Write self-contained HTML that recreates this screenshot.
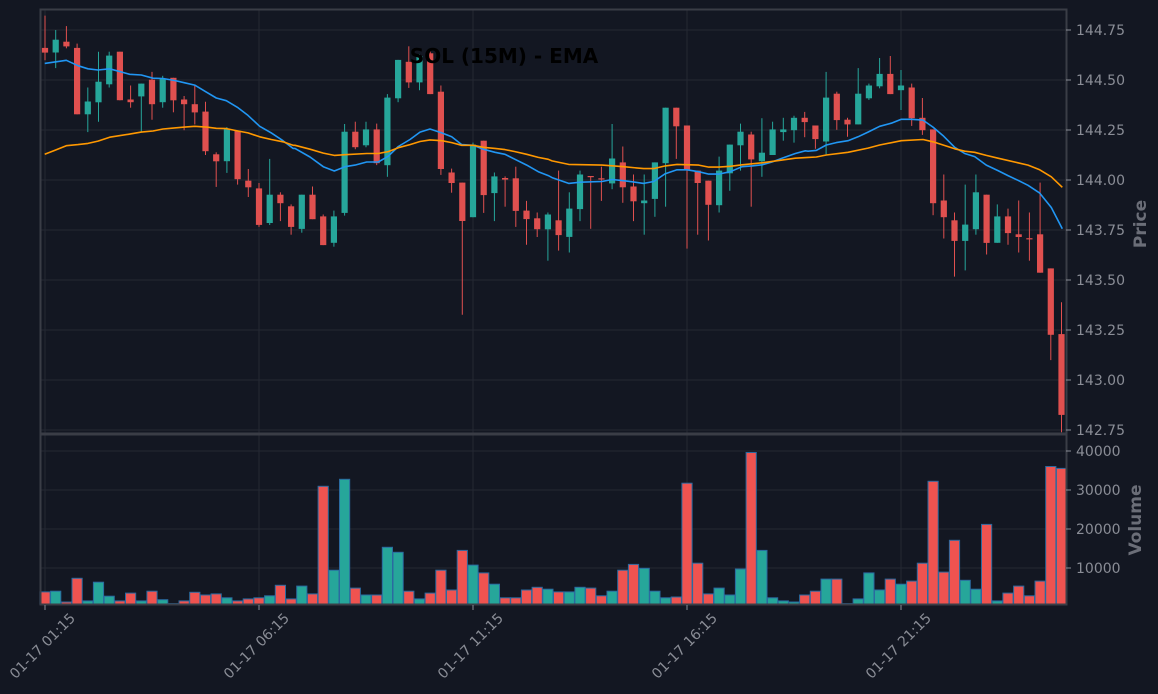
<!DOCTYPE html>
<html><head><meta charset="utf-8"><style>
html,body{margin:0;padding:0;background:#131722;}
svg{display:block;font-family:"DejaVu Sans","Liberation Sans",sans-serif;}
</style></head><body>
<svg id="s" width="1158" height="694" xmlns="http://www.w3.org/2000/svg"></svg>
<script>
const S=document.getElementById('s');let h='';
const Y=z=>30+(z-70)/2.575;
const X=i=>45+i*10.7;
h+='<rect width="1158" height="694" fill="#131722"/>';
[30,80,130,180,230,280,330,380,430].forEach(y=>h+=`<line x1="40" x2="1066" y1="${y}" y2="${y}" stroke="#242833" stroke-width="1"/>`);
[451,490,529,568].forEach(y=>h+=`<line x1="40" x2="1066" y1="${y}" y2="${y}" stroke="#242833" stroke-width="1"/>`);
[45,259,473,687,901].forEach(x=>h+=`<line x1="${x}" x2="${x}" y1="9" y2="604" stroke="#242833" stroke-width="1"/>`);
const C=[
['r',116,128,33,148],['g',95,128,70,168],['r',100,112,60,117],['r',116,287,105,287],['g',254,287,218,333],
['g',203,256,126,306],['g',136,210,126,218],['r',126,251,126,251],['r',249,256,213,270],['g',208,241,208,333],
['r',198,261,178,301],['g',195,256,188,270],['r',193,251,193,282],['r',249,261,240,328],['r',261,282,213,313],
['r',280,382,255,392],['r',390,408,385,474],['g',325,408,320,438],['r',330,454,330,468],['r',458,475,428,500],
['r',478,572,464,577],['g',494,567,402,572],['r',494,516,488,562],['r',524,577,519,597],['g',494,582,494,592],
['r',494,557,473,557],['r',550,624,545,624],['g',550,618,535,628],['g',332,541,312,548],['r',332,372,306,377],
['g',326,367,306,372],['r',326,413,311,418],['g',244,418,235,448],['g',147,246,147,256],['r',152,205,112,219],
['g',137,205,132,225],['r',130,235,122,235],['r',229,428,213,443],['r',437,464,427,489],['r',463,562,463,803],
['g',365,552,360,552],['r',355,495,355,541],['g',447,490,437,562],['r',451,455,447,525],['r',452,536,422,577],
['r',535,557,510,623],['r',555,583,540,603],['g',545,583,540,664],['r',560,598,432,638],['g',530,603,488,643],
['g',442,531,432,562],['r',446,449,447,582],['r',452,455,422,510],['g',401,465,312,480],['r',411,475,370,515],
['r',473,511,442,562],['g',509,516,442,597],['g',411,505,411,551],['g',270,413,270,525],['r',270,318,270,402],
['r',316,432,316,633],['r',432,464,432,597],['r',458,520,458,612],['g',432,521,396,540],['g',365,439,365,484],
['g',332,367,311,432],['r',339,403,332,525],['g',386,408,297,448],['g',326,392,306,392],['g',326,333,296,355],
['g',296,328,291,360],['r',296,307,281,346],['r',316,351,316,376],['g',244,357,178,390],['r',234,302,229,327],
['r',301,313,296,345],['g',234,313,168,313],['g',213,246,208,250],['g',183,215,142,220],['r',183,235,137,235],
['g',213,225,173,276],['r',218,297,208,317],['r',296,328,245,340],['r',326,516,326,547],['r',509,552,442,607],
['r',560,613,540,705],['g',571,613,468,689],['g',488,583,442,597],['r',494,618,494,648],['g',550,618,519,618],
['r',550,593,530,623],['r',596,603,509,643],['r',606,608,540,664],['r',596,695,463,695],['r',684,855,684,920],
['r',853,1061,771,1106]];
const V=[['r',1517],['g',1515],['r',1543],['r',1482],['g',1540],['g',1492],['g',1528],['r',1540],['r',1520],['g',1540],
['r',1515],['g',1537],['r',1547],['r',1540],['r',1518],['r',1525],['r',1522],['g',1532],['r',1540],['r',1535],
['r',1532],['g',1527],['r',1500],['r',1535],['g',1502],['r',1522],['r',1245],['g',1461],['g',1227],['r',1507],
['g',1525],['r',1525],['g',1402],['g',1415],['r',1515],['g',1535],['r',1520],['r',1461],['r',1512],['r',1410],
['g',1448],['r',1468],['g',1497],['r',1532],['r',1532],['r',1512],['r',1505],['g',1510],['r',1517],['g',1517],
['g',1505],['r',1507],['r',1527],['g',1515],['r',1461],['r',1446],['g',1456],['g',1515],['g',1532],['r',1530],
['r',1237],['r',1443],['r',1522],['g',1507],['g',1525],['g',1458],['r',1158],['g',1410],['g',1532],['g',1540],
['g',1543],['r',1525],['r',1515],['g',1484],['r',1484],['r',1547],['g',1535],['g',1468],['g',1512],['r',1484],
['g',1497],['r',1489],['r',1443],['r',1232],['r',1466],['r',1384],['g',1487],['g',1510],['r',1343],['g',1540],
['r',1520],['r',1502],['r',1527],['r',1489],['r',1194],['r',1199]];
const col={r:'#e0504f',g:'#26a69a'}, vcol={r:'#ef5350',g:'#26a69a'};
V.forEach((v,i)=>{const x=X(i);const t=Y(v[1]);h+=`<rect x="${(x-5.1).toFixed(1)}" y="${t.toFixed(1)}" width="10.2" height="${(604-t).toFixed(1)}" fill="${vcol[v[0]]}" stroke="#2a6aa0" stroke-width="1"/>`;});
C.forEach((c,i)=>{const x=X(i);const wt=Y(c[3]),wb=Y(c[4]);let bt=Y(c[1]),bb=Y(c[2]);if(bb-bt<1.2)bb=bt+1.2;
h+=`<line x1="${x.toFixed(1)}" x2="${x.toFixed(1)}" y1="${wt.toFixed(1)}" y2="${wb.toFixed(1)}" stroke="${col[c[0]]}" stroke-width="1"/>`;
h+=`<rect x="${(x-3.1).toFixed(1)}" y="${bt.toFixed(1)}" width="6.2" height="${(bb-bt).toFixed(1)}" fill="${col[c[0]]}"/>`;});
function L(segs,color){let p=[];segs.forEach(([off,pts])=>pts.forEach(([zx,zy])=>p.push([off+zx/3,Y(zy)])));
p.sort((a,b)=>a[0]-b[0]);h+=`<polyline fill="none" stroke="${color}" stroke-width="1.6" stroke-linejoin="round" points="${p.map(q=>q[0].toFixed(1)+','+q[1].toFixed(1)).join(' ')}"/>`;}
L([[38,[[20,156],[85,148],[120,162],[150,170],[180,173],[215,170],[275,184],[310,186],[345,194],[375,195],[410,200],[440,206],[470,212],[505,230],[535,245],[565,252],[600,270],[630,290],[665,318],[700,335],[735,355],[765,375]]],
[295,[[0,375],[45,397],[85,422],[118,433],[150,422],[180,418],[215,410],[250,410],[280,395],[310,370],[345,352],[375,333],[405,325],[440,335],[470,345],[500,365],[535,367],[565,377],[600,385],[630,390],[660,403],[695,418],[730,435],[760,445]]],
[552,[[0,450],[50,465],[85,462],[150,460],[180,455],[215,458],[275,465],[305,460],[340,440],[375,430],[405,430],[440,435],[470,441],[500,441],[535,435],[570,422],[600,420],[630,417],[660,410],[690,400],[730,388],[760,381]]],
[808,[[0,382],[25,380],[55,366],[85,360],[120,355],[150,345],[180,333],[215,318],[250,310],[280,300],[310,300],[345,302],[375,320],[405,342],[440,372],[470,388],[500,396],[535,418],[570,432],[600,445],[630,457],[660,470],[695,490],[730,527],[763,582]]]],'#2196f3');
L([[38,[[20,390],[50,380],[85,368],[120,365],[150,362],[180,356],[215,346],[275,338],[310,333],[345,330],[375,325],[410,322],[440,320],[470,318],[505,320],[535,323],[565,324],[600,330],[630,335],[665,345],[700,352],[735,358],[765,367]]],
[295,[[0,367],[45,377],[85,387],[118,393],[150,391],[215,388],[250,388],[280,383],[310,373],[345,365],[375,357],[405,353],[440,355],[470,360],[500,367],[535,367],[565,372],[600,375],[630,378],[660,383],[695,390],[730,398],[760,403]]],
[552,[[0,407],[50,416],[150,418],[215,422],[275,427],[305,427],[340,420],[375,416],[440,418],[470,423],[500,423],[535,421],[570,417],[630,412],[690,405],[730,400]]],
[808,[[0,398],[25,397],[55,392],[120,385],[180,374],[215,366],[280,355],[345,352],[375,358],[440,376],[470,382],[500,385],[535,393],[570,400],[630,412],[660,418],[695,430],[730,448],[763,475]]]],'#ff9800');
h+=`<rect x="40.5" y="9.5" width="1026" height="424" fill="none" stroke="#3a3d46" stroke-width="2"/>`;
h+=`<rect x="40.5" y="434.5" width="1026" height="170" fill="none" stroke="#3a3d46" stroke-width="2"/>`;
const pt=[['144.75',30],['144.50',80],['144.25',130],['144.00',180],['143.75',230],['143.50',280],['143.25',330],['143.00',380],['142.75',430]];
pt.forEach(([t,y])=>{h+=`<line x1="1066" x2="1071" y1="${y}" y2="${y}" stroke="#8a8d96"/><text x="1076" y="${y+5}" font-size="14" fill="#8a8d96">${t}</text>`;});
[['40000',451],['30000',490],['20000',529],['10000',568]].forEach(([t,y])=>{h+=`<line x1="1066" x2="1071" y1="${y}" y2="${y}" stroke="#8a8d96"/><text x="1076" y="${y+5}" font-size="14" fill="#8a8d96">${t}</text>`;});
h+=`<text transform="translate(1146,224) rotate(-90)" text-anchor="middle" font-size="17" font-weight="bold" fill="#6b6e78">Price</text>`;
h+=`<text transform="translate(1141,520) rotate(-90)" text-anchor="middle" font-size="17" font-weight="bold" fill="#6b6e78">Volume</text>`;
[['01-17 01:15',45],['01-17 06:15',259],['01-17 11:15',473],['01-17 16:15',687],['01-17 21:15',901]].forEach(([t,x])=>{
h+=`<line x1="${x}" x2="${x}" y1="605" y2="610" stroke="#8a8d96"/><text transform="translate(${x+31},619) rotate(-45)" text-anchor="end" font-size="14" fill="#8a8d96">${t}</text>`;});
h+=`<text x="504" y="63" text-anchor="middle" font-size="20" font-weight="bold" fill="#000">SOL (15M) - EMA</text>`;
S.innerHTML=h;
</script>
</body></html>
